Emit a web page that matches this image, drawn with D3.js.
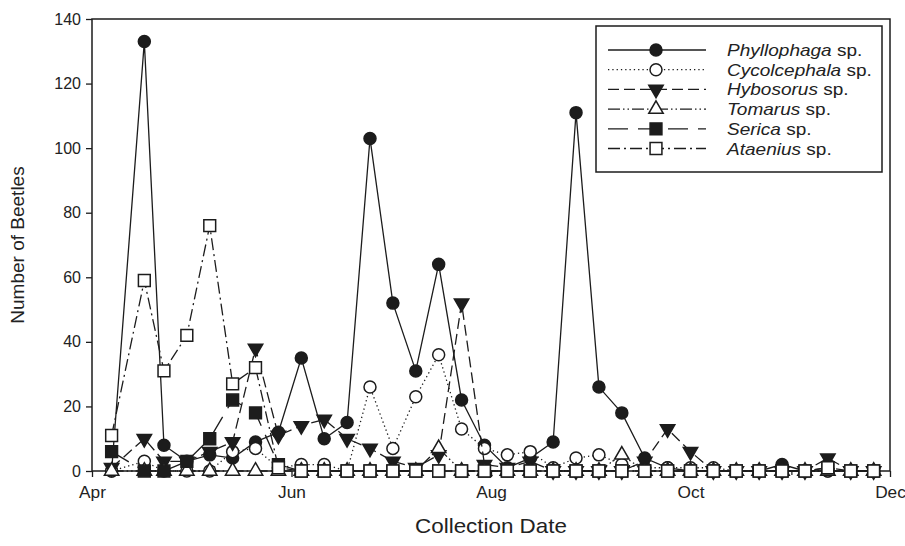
<!DOCTYPE html>
<html>
<head>
<meta charset="utf-8">
<script src="https://cdn.jsdelivr.net/npm/d3@7"></script>
<style>
  body { margin: 0; background: #fff; }
  svg text { font-family: "Liberation Sans", Arial, sans-serif; fill: #222; }
</style>
</head>
<body>
<div id="chart"></div>
<script>
// collection dates (weekly after mid-April)
const dates = ["2008-04-07","2008-04-17","2008-04-23","2008-04-30","2008-05-07","2008-05-14",
  "2008-05-21","2008-05-28","2008-06-04","2008-06-11","2008-06-18","2008-06-25","2008-07-02",
  "2008-07-09","2008-07-16","2008-07-23","2008-07-30","2008-08-06","2008-08-13","2008-08-20",
  "2008-08-27","2008-09-03","2008-09-10","2008-09-17","2008-09-24","2008-10-01","2008-10-08",
  "2008-10-15","2008-10-22","2008-10-29","2008-11-05","2008-11-12","2008-11-19","2008-11-26"];

const phyllophaga = [0,133,8,3,5,4,9,12,35,10,15,103,52,31,64,22,8,1,4,9,111,26,18,4,1,0,0,0,0,2,0,0,0,0];
const cycolcephala = [0,3,0,0,0,6,7,1,2,2,0,26,7,23,36,13,7,5,6,1,4,5,2,1,1,1,1,0,0,0,0,0,0,0];
const hybosorus = [1,10,3,3,6,9,38,11,14,16,10,7,3,1,5,52,2,1,3,0,0,0,0,3,13,6,0,0,0,0,0,4,0,0];
const tomarus = [0,0,0,0,0,0,0,0,0,0,0,0,0,0,7,0,0,0,0,0,0,0,5,0,0,0,0,0,0,0,0,0,0,0];
const serica = [6,0,0,3,10,22,18,2,0,0,0,0,0,0,0,0,0,0,0,0,0,0,0,0,0,0,0,0,0,0,0,1,0,0];
const ataenius = [11,59,31,42,76,27,32,1,0,0,0,0,0,0,0,0,0,0,0,0,0,0,0,0,0,0,0,0,0,0,0,1,0,0];

const yTicks = [0,20,40,60,80,100,120,140];
const xTickDates = ["2008-04-01","2008-06-01","2008-08-01","2008-10-01","2008-12-01"];

const parse = d3.timeParse("%Y-%m-%d");
const ink = "#1c1c1c";

const series = [
  { genus: "Phyllophaga", values: phyllophaga, dash: null, sym: d3.symbolCircle, size: 113, fill: ink, rot: 0 },
  { genus: "Cycolcephala", values: cycolcephala, dash: "1.3,3", sym: d3.symbolCircle, size: 113, fill: "#fff", rot: 0 },
  { genus: "Hybosorus", values: hybosorus, dash: "11,5", sym: d3.symbolTriangle, size: 90, fill: ink, rot: 180 },
  { genus: "Tomarus", values: tomarus, dash: "12,3,1.5,3,1.5,3", sym: d3.symbolTriangle, size: 90, fill: "#fff", rot: 0 },
  { genus: "Serica", values: serica, dash: "20,10", sym: d3.symbolSquare, size: 140, fill: ink, rot: 0 },
  { genus: "Ataenius", values: ataenius, dash: "12,4,2,4", sym: d3.symbolSquare, size: 140, fill: "#fff", rot: 0 }
];

const W = 905, H = 546;
const svg = d3.select("#chart").append("svg")
  .attr("width", W).attr("height", H);

const plotL = 92, plotR = 890, plotT = 19, plotB = 471;

const x = d3.scaleTime()
  .domain([parse("2008-04-01"), parse("2008-12-01")])
  .range([plotL, plotR]);
const y = d3.scaleLinear()
  .domain([0, 140])
  .range([plotB, plotT]);

// frame
svg.append("rect")
  .attr("x", plotL).attr("y", plotT)
  .attr("width", plotR - plotL).attr("height", plotB - plotT)
  .attr("fill", "none").attr("stroke", ink).attr("stroke-width", 1.5);

// y axis
const yAxis = svg.append("g")
  .attr("transform", "translate(" + plotL + ",0)")
  .call(d3.axisLeft(y).tickValues(yTicks).tickSize(6).tickSizeOuter(0).tickPadding(5));
yAxis.select(".domain").remove();
yAxis.selectAll("line").attr("stroke", ink).attr("stroke-width", 1.3);
yAxis.selectAll("text").attr("font-size", 16).attr("fill", "#222");

// x axis
const xAxis = svg.append("g")
  .attr("transform", "translate(0," + plotB + ")")
  .call(d3.axisBottom(x).tickValues(xTickDates.map(parse))
    .tickFormat(d3.timeFormat("%b")).tickSize(6).tickSizeOuter(0).tickPadding(10));
xAxis.select(".domain").remove();
xAxis.selectAll("line").attr("stroke", ink).attr("stroke-width", 1.3);
xAxis.selectAll("text").attr("font-size", 16).attr("fill", "#222")
  .attr("transform", "scale(1.08,1)")
  .attr("x", function () { return 0; });

// minor month ticks
svg.append("g").selectAll("line")
  .data(d3.timeMonth.range(parse("2008-05-01"), parse("2008-12-01"), 2))
  .enter().append("line")
  .attr("x1", d => x(d)).attr("x2", d => x(d))
  .attr("y1", plotB).attr("y2", plotB + 4)
  .attr("stroke", ink).attr("stroke-width", 1.2);

// axis titles (source figure is slightly stretched horizontally)
svg.append("text")
  .attr("transform", "translate(" + ((plotL + plotR) / 2) + ",533) scale(1.12,1)")
  .attr("text-anchor", "middle").attr("font-size", 20)
  .text("Collection Date");
svg.append("text")
  .attr("transform", "translate(24," + ((plotT + plotB) / 2) + ") rotate(-90)")
  .attr("text-anchor", "middle").attr("font-size", 19)
  .text("Number of Beetles");

// lines and markers
const plot = svg.append("g");
series.forEach(s => {
  const pts = dates.map((d, i) => ({ date: parse(d), v: s.values[i] }));
  const line = d3.line().x(d => x(d.date)).y(d => y(d.v));
  plot.append("path")
    .datum(pts)
    .attr("d", line)
    .attr("fill", "none")
    .attr("stroke", ink)
    .attr("stroke-width", 1.3)
    .attr("stroke-dasharray", s.dash);
  plot.append("g").selectAll("path")
    .data(pts)
    .enter().append("path")
    .attr("d", d3.symbol().type(s.sym).size(s.size))
    .attr("transform", d => "translate(" + x(d.date) + "," + y(d.v) + ") rotate(" + s.rot + ")")
    .attr("fill", s.fill)
    .attr("stroke", ink)
    .attr("stroke-width", 1.5);
});

// legend
const leg = svg.append("g");
leg.append("rect")
  .attr("x", 596).attr("y", 26).attr("width", 286).attr("height", 146)
  .attr("fill", "#fff").attr("stroke", ink).attr("stroke-width", 1.5);
series.forEach((s, i) => {
  const ly = 50 + i * 19.7;
  leg.append("line")
    .attr("x1", 608).attr("x2", 706).attr("y1", ly).attr("y2", ly)
    .attr("stroke", ink).attr("stroke-width", 1.3)
    .attr("stroke-dasharray", s.dash);
  leg.append("path")
    .attr("d", d3.symbol().type(s.sym).size(s.size))
    .attr("transform", "translate(656," + ly + ") rotate(" + s.rot + ")")
    .attr("fill", s.fill).attr("stroke", ink).attr("stroke-width", 1.5);
  const t = leg.append("text")
    .attr("transform", "translate(727," + (ly + 6) + ") scale(1.12,1)")
    .attr("font-size", 17);
  t.append("tspan").attr("font-style", "italic").text(s.genus);
  t.append("tspan").text(" sp.");
});
</script>
</body>
</html>
